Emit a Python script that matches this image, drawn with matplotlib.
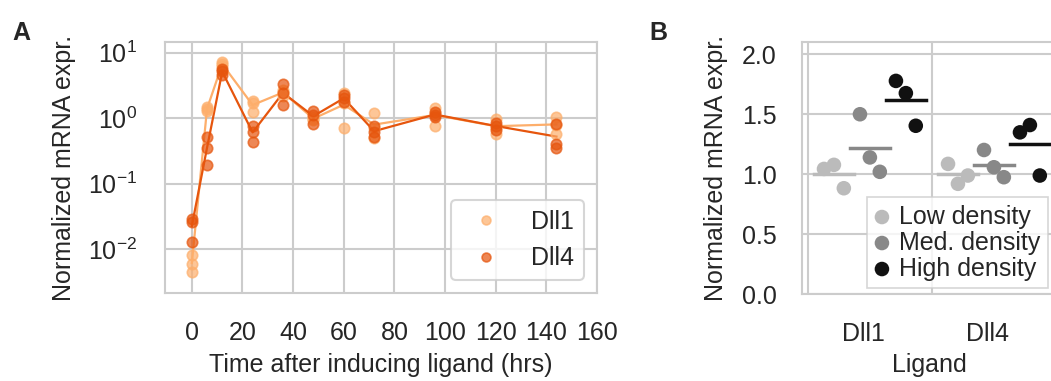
import matplotlib
matplotlib.use("Agg")
import matplotlib.pyplot as plt
import numpy as np

plt.rcParams['font.family'] = ['Liberation Sans', 'DejaVu Sans']
plt.rcParams['font.size'] = 18
plt.rcParams['mathtext.fontset'] = 'custom'
plt.rcParams['mathtext.rm'] = 'Liberation Sans'
plt.rcParams['mathtext.it'] = 'Liberation Sans:italic'
plt.rcParams['mathtext.bf'] = 'Liberation Sans:bold'
plt.rcParams['axes.edgecolor'] = '#cccccc'
plt.rcParams['axes.linewidth'] = 1.5
plt.rcParams['grid.color'] = '#cccccc'
plt.rcParams['grid.linewidth'] = 1.5
plt.rcParams['xtick.major.size'] = 0
plt.rcParams['ytick.major.size'] = 0
plt.rcParams['ytick.minor.size'] = 0
plt.rcParams['text.color'] = '#262626'
plt.rcParams['xtick.color'] = '#262626'
plt.rcParams['ytick.color'] = '#262626'
plt.rcParams['axes.labelcolor'] = '#262626'

# --- panel A: time course (replicates per time point) ---
time_hrs = [0, 6, 12, 24, 36, 48, 60, 72, 96, 120, 144]
dll1_reps = [
    [0.0081, 0.0059, 0.0044],
    [1.50, 1.38, 1.30],
    [7.1, 6.7, 6.3],
    [1.8, 1.7, 1.26],
    [2.7, 2.5, 2.2],
    [1.05, 0.97, 0.93],
    [2.4, 1.7, 0.72],
    [1.2, 0.70, 0.49],
    [1.41, 1.19, 0.76],
    [0.96, 0.72, 0.58],
    [1.05, 0.78, 0.58],
]
dll4_reps = [
    [0.029, 0.026, 0.013],
    [0.52, 0.35, 0.19],
    [5.6, 5.2, 4.6],
    [0.76, 0.62, 0.44],
    [3.3, 2.4, 1.6],
    [1.29, 1.12, 0.81],
    [2.25, 2.0, 1.78],
    [0.76, 0.62, 0.52],
    [1.26, 1.12, 1.03],
    [0.85, 0.76, 0.67],
    [0.81, 0.41, 0.35],
]

# --- panel B: density experiment ---
ligands = ['Dll1', 'Dll4']
densities = ['Low density', 'Med. density', 'High density']
dll1_density = [[1.044, 1.078, 0.883], [1.50, 1.14, 1.02], [1.778, 1.676, 1.404]]
dll4_density = [[1.086, 0.92, 0.989], [1.202, 1.058, 0.975], [1.349, 1.41, 0.989]]

c_dll1 = '#fdae6b'
c_dll4 = '#e6550d'
dens_colors = ['#bbbbbb', '#888888', '#111111']

fig = plt.figure(figsize=(10.51, 3.81), dpi=100)
axA = fig.add_axes([0.157, 0.231, 0.411, 0.659])
axB = fig.add_axes([0.763, 0.228, 0.2417, 0.661])

for reps, col, name in [(dll1_reps, c_dll1, 'Dll1'), (dll4_reps, c_dll4, 'Dll4')]:
    means = [np.mean(r) for r in reps]
    axA.plot(time_hrs, means, color=col, lw=1.6, zorder=2)
    xs = np.concatenate([[t] * len(r) for t, r in zip(time_hrs, reps)])
    ys = np.concatenate(reps)
    axA.plot(xs, ys, 'o', color=col, ms=7.5, alpha=0.7, mec=col, mew=1.2,
             zorder=3, label=name)

axA.set_yscale('log')
axA.set_ylim(0.00214, 14.6)
axA.set_xlim(-10.6, 159.5)
axA.set_xticks(range(0, 161, 20))
axA.set_yticks([1e-2, 1e-1, 1, 10])
axA.minorticks_off()
axA.grid(True)
axA.set_axisbelow(True)
axA.set_xlabel('Time after inducing ligand (hrs)', labelpad=6)
axA.set_ylabel('Normalized mRNA expr.', labelpad=9)
axA.tick_params(axis='x', pad=20)
axA.tick_params(axis='y', pad=20)
leg = axA.legend(loc='lower right', handlelength=2, markerscale=0.85,
                 edgecolor='#cccccc', fancybox=True)
leg.get_frame().set_linewidth(1.5)

# panel B
group_off = [-0.29, 0.0, 0.29]
jitter = [-0.08, 0.0, 0.08]
for li, vals in enumerate([dll1_density, dll4_density]):
    for di, v in enumerate(vals):
        cx = li + 0.5 + group_off[di]
        axB.scatter([cx + j for j in jitter], v, s=110, color=dens_colors[di],
                    edgecolor='none', zorder=3,
                    label=densities[di] if li == 0 else None)
        axB.plot([cx - 0.16, cx + 0.16], [np.mean(v)] * 2, color=dens_colors[di],
                 lw=2.5, zorder=2)

axB.set_xlim(-0.048, 2.0)
axB.set_ylim(0, 2.1)
axB.set_yticks([0, 0.5, 1.0, 1.5, 2.0])
axB.set_xticks([0.45, 1.45])
axB.set_xticklabels(ligands)
axB.set_xticks([0, 1], minor=True)
axB.tick_params(which='minor', length=0)
axB.grid(True, axis='y')
axB.grid(True, axis='x', which='minor')
axB.set_axisbelow(True)
axB.spines['right'].set_visible(False)
axB.set_xlabel('Ligand', labelpad=5)
axB.set_ylabel('Normalized mRNA expr.', labelpad=10)
axB.tick_params(axis='x', pad=20)
axB.tick_params(axis='y', pad=18)
legB = axB.legend(loc='lower left', bbox_to_anchor=(0.256, 0.024),
                  borderaxespad=0, handlelength=0.6, handletextpad=0.4,
                  labelspacing=0.08, borderpad=0.3, edgecolor='#cccccc',
                  fancybox=False)
legB.get_frame().set_linewidth(1.2)

fig.text(0.012, 0.895, 'A', fontsize=18, fontweight='bold')
fig.text(0.618, 0.895, 'B', fontsize=18, fontweight='bold')

fig.savefig('out.png', dpi=100)
